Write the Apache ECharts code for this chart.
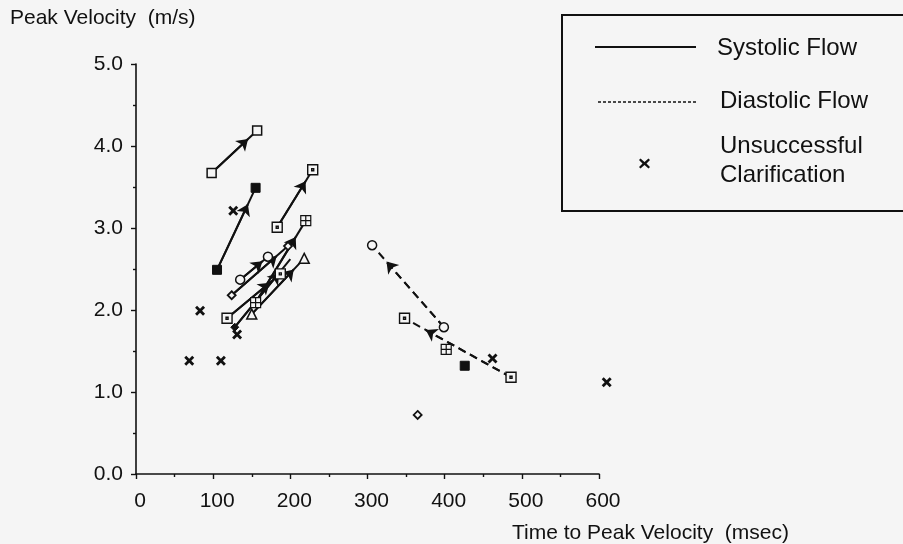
<!DOCTYPE html>
<html>
<head>
<meta charset="utf-8">
<script src="https://cdn.jsdelivr.net/npm/echarts@6/dist/echarts.min.js"></script>
<style>
  html, body { margin: 0; padding: 0; background: #f5f5f5; }
  #chart { width: 903px; height: 544px; }
</style>
</head>
<body>
<div id="chart"></div>
<script>
// systolic flow: before -> after, one marker type per patient
var systolicMarkers = ['open', 'filled', 'dot', 'plus', 'circle', 'diamond', 'triangle', 'dot', 'filledDiamond'];
var systolicEndMarkers = ['open', 'filled', 'dot', 'plus', 'circle', 'diamond', 'triangle', 'dot', 'none'];
var systolicBefore = [[98, 3.67], [105, 2.49], [183, 3.01], [155, 2.09], [135, 2.37], [124, 2.18], [150, 1.95], [118, 1.90], [128, 1.79]];
var systolicAfter = [[157, 4.19], [155, 3.49], [229, 3.71], [220, 3.09], [171, 2.65], [197, 2.78], [218, 2.63], [187, 2.44], [200, 2.62]];

// diastolic flow
var diastolicMarkers = ['circle', 'dot'];
var diastolicBefore = [[399, 1.79], [486, 1.18]];
var diastolicAfter = [[306, 2.79], [348, 1.90]];

// single points without arrows
var otherMarkers = ['plus', 'filled', 'diamond'];
var otherPoints = [[402, 1.52], [426, 1.32], [365, 0.72]];

// unsuccessful clarification
var unsuccessful = [[69, 1.38], [110, 1.38], [83, 1.99], [126, 3.21], [131, 1.70], [462, 1.41], [610, 1.12]];

var xTicks = [0, 100, 200, 300, 400, 500, 600];
var yTicks = [0, 1, 2, 3, 4, 5];

var BG = '#f5f5f5';
var INK = '#111';
var FONT = 'Liberation Sans, Arial, Helvetica, sans-serif';

var crossPath = 'path://M2,0L5,3L8,0L10,2L7,5L10,8L8,10L5,7L2,10L0,8L3,5L0,2Z';

// marker name -> symbol look
var markerStyles = {
    open: { symbol: 'rect', size: 9, fill: BG, border: 1.5 },
    filled: { symbol: 'rect', size: 9, fill: INK, border: 1 },
    dot: { symbol: 'path://M0,0H10V10H0Z M4,4H6V6H4Z', size: 10, fill: BG, border: 1.4 },
    plus: { symbol: 'path://M0,0H10V10H0Z M5,0V10 M0,5H10', size: 10, fill: BG, border: 1.2 },
    circle: { symbol: 'circle', size: 9, fill: BG, border: 1.5 },
    diamond: { symbol: 'diamond', size: 8, fill: BG, border: 1.8 },
    triangle: { symbol: 'triangle', size: 10, fill: BG, border: 1.5 },
    filledDiamond: { symbol: 'diamond', size: 8, fill: INK, border: 1 },
    cross: { symbol: crossPath, size: 10, fill: INK, border: 0 }
};

function arrowTip(a, b, t) {
    return [a[0] + (b[0] - a[0]) * t, a[1] + (b[1] - a[1]) * t];
}

var series = [];

function addFlow(before, after, dashed) {
    var lineStyle = { color: INK, width: 2, type: dashed ? [8, 5] : 'solid', opacity: 1 };
    series.push({
        type: 'lines', coordinateSystem: 'cartesian2d', z: 2, silent: true,
        symbol: 'none', lineStyle: lineStyle,
        data: before.map(function (p, i) { return { coords: [p, after[i]] }; })
    });
    series.push({
        type: 'lines', coordinateSystem: 'cartesian2d', z: 3, silent: true,
        symbol: ['none', 'arrow'], symbolSize: 11, lineStyle: lineStyle,
        data: before.map(function (p, i) { return { coords: [p, arrowTip(p, after[i], 0.8)] }; })
    });
}
addFlow(systolicBefore, systolicAfter, false);
addFlow(diastolicBefore, diastolicAfter, true);

// collect points per marker type
var groups = {};
function collect(points, markers) {
    points.forEach(function (p, i) {
        var m = markers[i];
        if (m === 'none') return;
        (groups[m] = groups[m] || []).push(p);
    });
}
collect(systolicBefore, systolicMarkers);
collect(systolicAfter, systolicEndMarkers);
collect(diastolicBefore, diastolicMarkers);
collect(diastolicAfter, diastolicMarkers);
collect(otherPoints, otherMarkers);
collect(unsuccessful, unsuccessful.map(function () { return 'cross'; }));

Object.keys(groups).forEach(function (m) {
    var s = markerStyles[m];
    series.push({
        type: 'scatter', z: 5, clip: false, silent: true,
        symbol: s.symbol, symbolSize: s.size,
        itemStyle: { color: s.fill, borderColor: INK, borderWidth: s.border, opacity: 1 },
        data: groups[m]
    });
});

var axisCommon = {
    axisLine: { lineStyle: { color: INK, width: 1.6 } },
    axisTick: { show: true, length: 5, lineStyle: { color: INK, width: 1.4 } },
    minorTick: { show: true, splitNumber: 2, length: 3, lineStyle: { color: INK, width: 1.4 } },
    splitLine: { show: false },
    axisLabel: { color: INK, fontSize: 21, fontFamily: FONT }
};

var chart = echarts.init(document.getElementById('chart'));
chart.setOption({
    backgroundColor: BG,
    animation: false,
    grid: { left: 136, right: 304, top: 64, bottom: 70, containLabel: false },
    xAxis: Object.assign({}, axisCommon, {
        type: 'value', min: xTicks[0], max: xTicks[xTicks.length - 1], interval: 100,
        axisLabel: Object.assign({}, axisCommon.axisLabel, { margin: 17, padding: [0, 0, 0, 8] })
    }),
    yAxis: Object.assign({}, axisCommon, {
        type: 'value', min: yTicks[0], max: yTicks[yTicks.length - 1], interval: 1,
        axisLabel: Object.assign({}, axisCommon.axisLabel, {
            margin: 13,
            formatter: function (v) { return v.toFixed(1); }
        })
    }),
    graphic: [
        { type: 'text', left: 10, top: 8, style: { text: 'Peak Velocity  (m/s)', fontSize: 21, fontFamily: FONT, fill: INK } },
        { type: 'text', left: 512, top: 523, style: { text: 'Time to Peak Velocity  (msec)', fontSize: 21, fontFamily: FONT, fill: INK } },
        // legend box
        { type: 'rect', shape: { x: 562, y: 15, width: 345, height: 196 }, style: { fill: BG, stroke: INK, lineWidth: 2 }, z: 10 },
        { type: 'line', shape: { x1: 595, y1: 47, x2: 696, y2: 47 }, style: { stroke: INK, lineWidth: 2 }, z: 11 },
        { type: 'text', x: 717, y: 48, style: { text: 'Systolic Flow', fontSize: 24, fontFamily: FONT, fill: INK, verticalAlign: 'middle' }, z: 11 },
        { type: 'line', shape: { x1: 598, y1: 102, x2: 698, y2: 102 }, style: { stroke: INK, lineWidth: 1.5, lineDash: [3, 2] }, z: 11 },
        { type: 'text', x: 720, y: 101, style: { text: 'Diastolic Flow', fontSize: 24, fontFamily: FONT, fill: INK, verticalAlign: 'middle' }, z: 11 },
        { type: 'polygon', shape: { points: [[640.5, 158.5], [644.5, 162], [648.5, 158.5], [650, 160], [646.5, 163.5], [650, 167], [648.5, 168.5], [644.5, 165], [640.5, 168.5], [639, 167], [642.5, 163.5], [639, 160]] }, style: { fill: INK }, z: 11 },
        { type: 'text', x: 720, y: 146, style: { text: 'Unsuccessful', fontSize: 24, fontFamily: FONT, fill: INK, verticalAlign: 'middle' }, z: 11 },
        { type: 'text', x: 720, y: 175, style: { text: 'Clarification', fontSize: 24, fontFamily: FONT, fill: INK, verticalAlign: 'middle' }, z: 11 }
    ],
    series: series
});
</script>
</body>
</html>
